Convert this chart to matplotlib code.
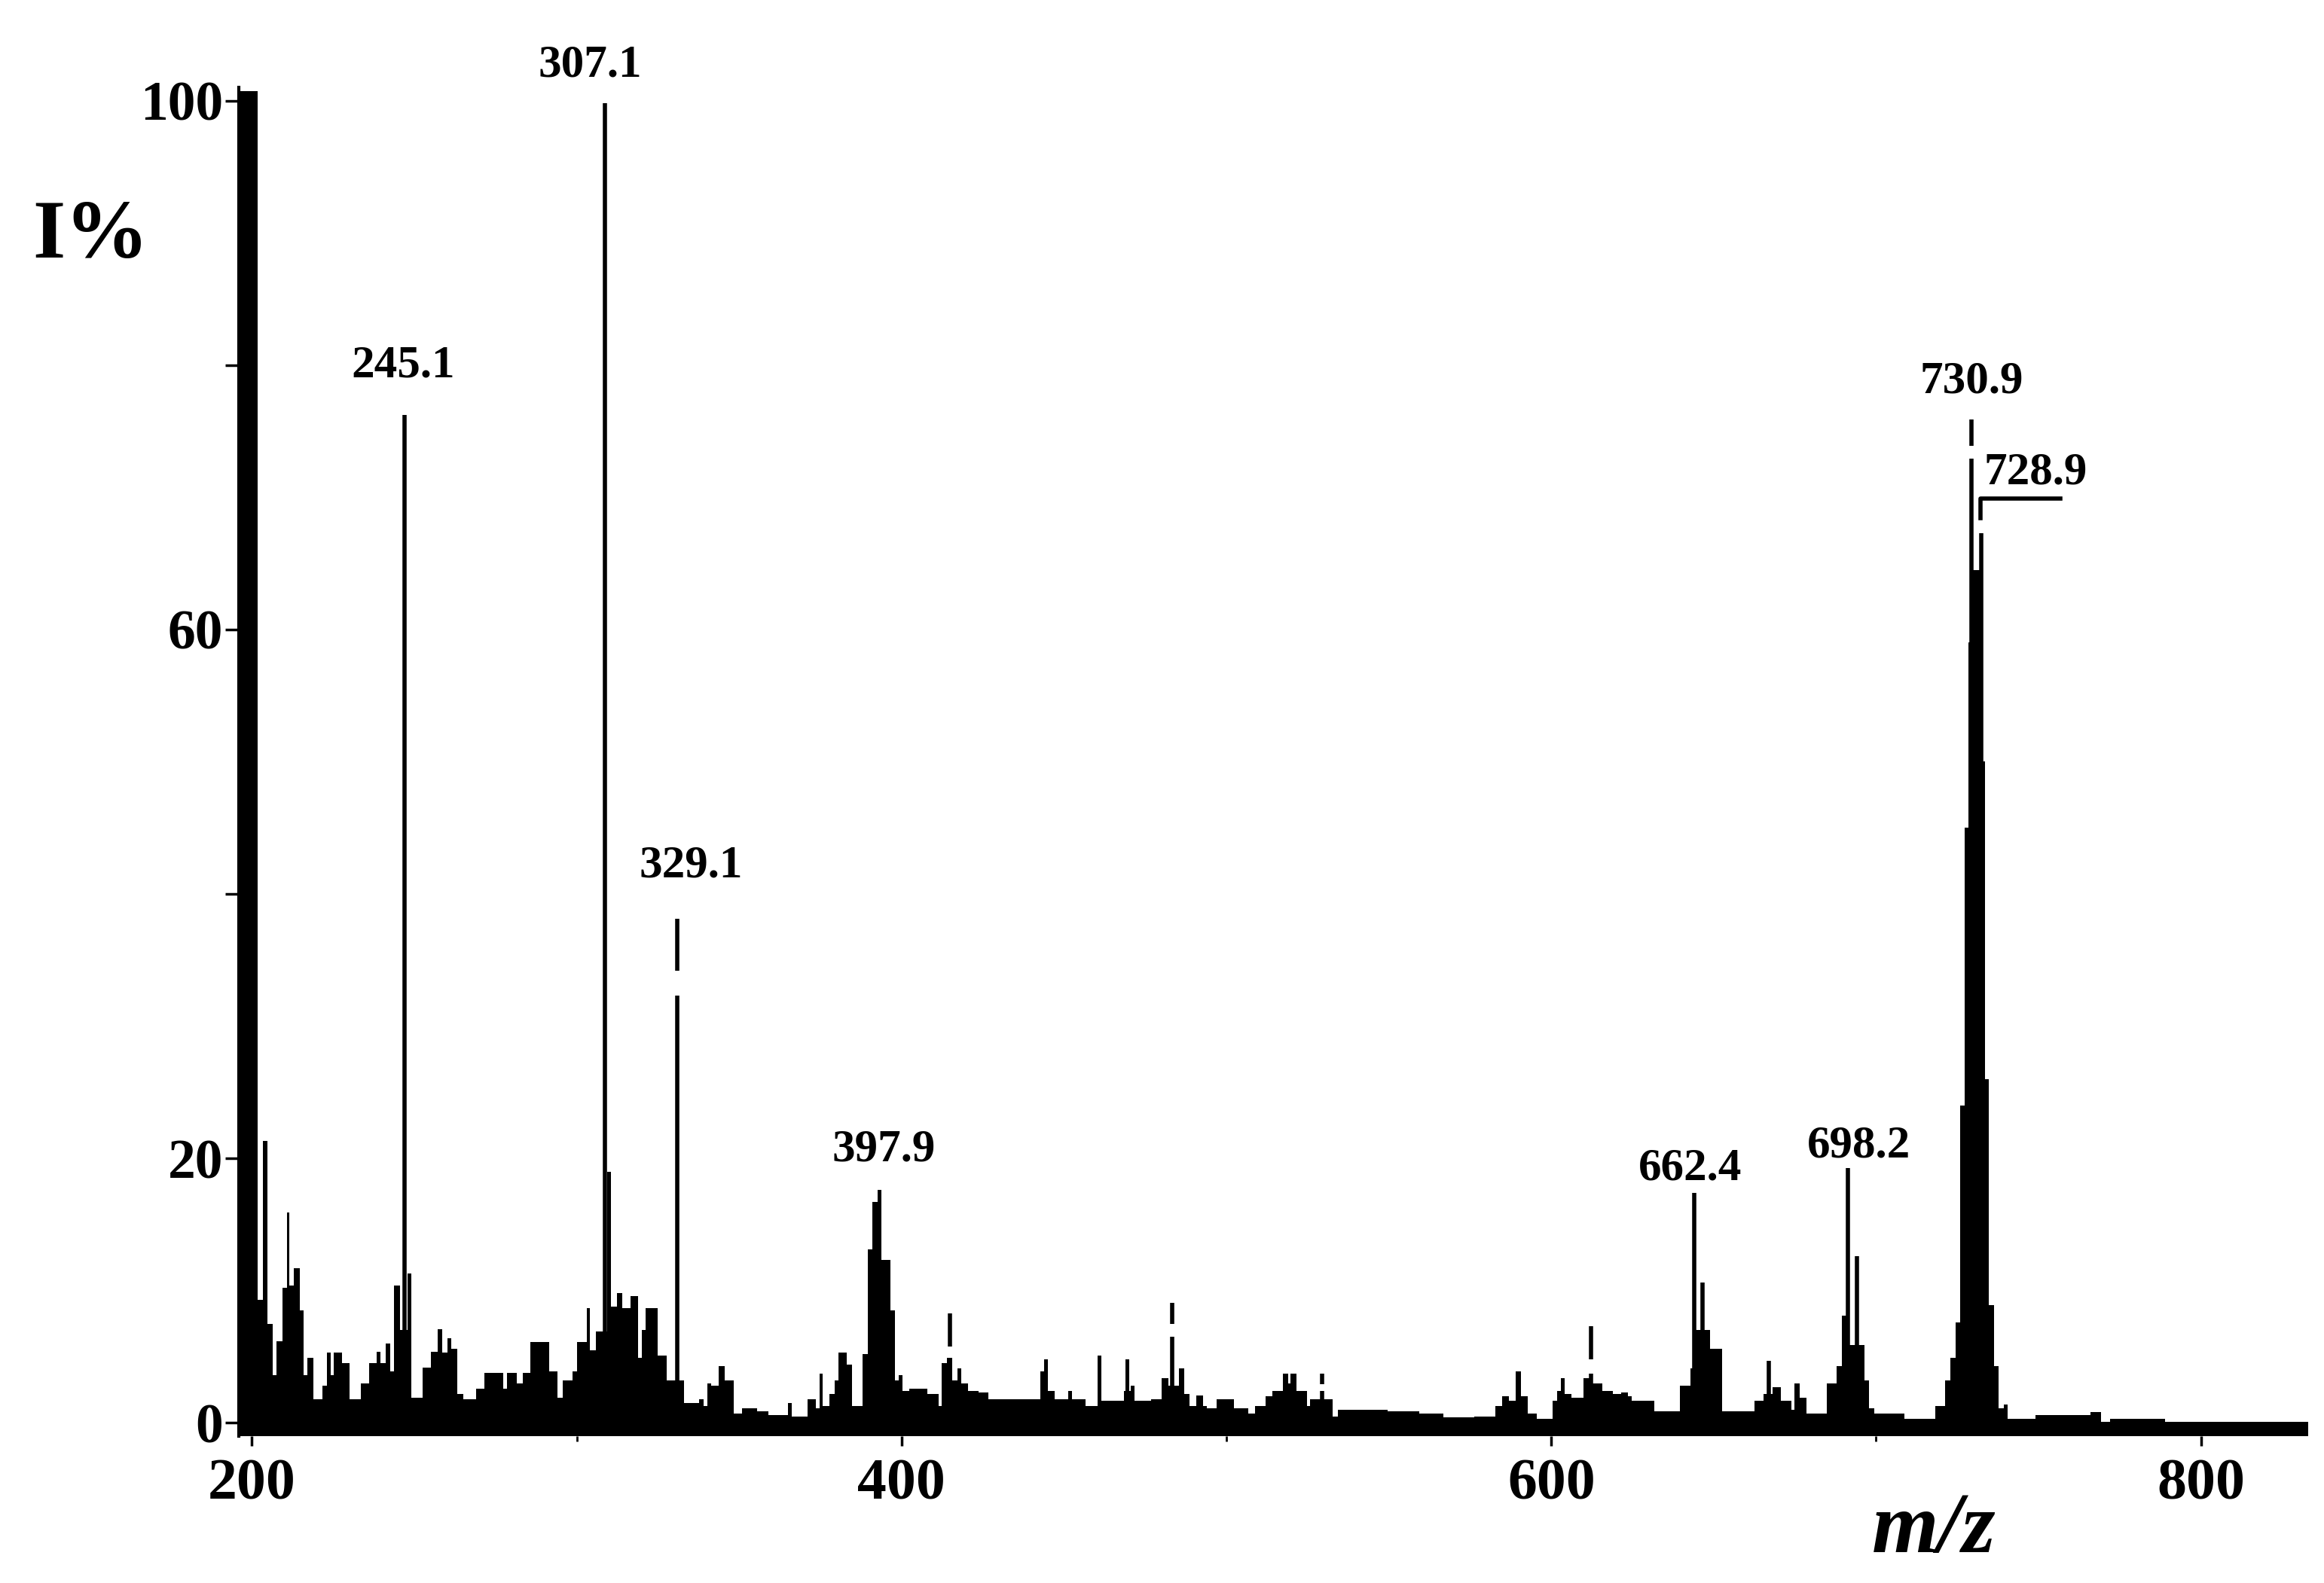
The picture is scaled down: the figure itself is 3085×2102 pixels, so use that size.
import matplotlib
matplotlib.use("Agg")
import matplotlib.pyplot as plt

# continuum / cluster profile: left edge of each step (m/z) and I%
profile_mz = [
    196.0, 201.7, 203.3, 204.8, 206.4, 207.6, 209.4, 210.7, 211.5, 213.0,
    214.7, 215.9, 217.0, 219.0, 221.8, 223.0, 224.2, 225.3, 227.7, 230.0,
    233.6, 236.0, 238.4, 239.6, 241.3, 242.5, 243.7, 245.5, 247.8, 249.0,
    252.6, 255.0, 257.3, 258.5, 260.2, 261.4, 263.2, 265.0, 269.0, 271.5,
    277.4, 278.5, 281.5, 283.5, 285.7, 291.6, 294.0, 295.7, 298.7, 300.0,
    303.0, 304.0, 305.8, 309.3, 310.5, 312.3, 314.1, 316.5, 318.8, 320.0,
    321.1, 325.0, 327.7, 333.0, 337.7, 339.0, 340.2, 341.3, 343.7, 345.5,
    348.4, 350.8, 355.5, 359.0, 365.0, 366.2, 371.0, 373.6, 374.8, 375.8,
    377.8, 379.4, 380.5, 383.2, 384.8, 388.0, 389.5, 391.1, 392.7, 393.8,
    396.5, 398.0, 399.1, 400.2, 402.3, 408.0, 411.4, 412.4, 414.0, 415.6,
    417.2, 418.3, 420.4, 423.6, 426.8, 442.8, 443.8, 445.0, 447.0, 451.3,
    452.5, 456.6, 460.4, 461.4, 468.4, 469.0, 470.0, 470.5, 471.6, 476.9,
    480.0, 482.1, 485.4, 487.0, 488.6, 490.7, 492.9, 494.0, 497.0, 502.4,
    506.6, 508.8, 512.0, 514.2, 517.3, 519.0, 519.6, 521.5, 524.7, 525.7,
    532.7, 534.3, 549.7, 559.3, 566.8, 576.3, 582.7, 584.9, 587.0, 589.1,
    590.7, 592.8, 595.5, 600.3, 601.9, 603.0, 604.0, 606.2, 609.9, 612.0,
    615.7, 618.9, 621.6, 623.7, 624.8, 631.7, 639.7, 642.9, 644.5, 648.8,
    652.5, 662.6, 665.3, 668.0, 670.6, 673.8, 674.9, 676.5, 678.6, 684.8,
    687.9, 689.5, 691.8, 696.3, 697.8, 699.4, 708.8, 718.2, 721.3, 722.9,
    724.5, 725.8, 727.2, 728.3, 729.5, 732.6, 733.6, 734.7, 736.2, 737.7,
    739.4, 740.5, 749.0, 766.0, 769.2, 772.0, 789.0, 833.0,
]
profile_int = [
    100.7, 9.3, 21.3, 7.5, 3.6, 6.2, 10.2, 15.9, 10.4, 11.7,
    8.5, 3.6, 4.9, 1.8, 2.8, 5.3, 3.6, 5.3, 4.5, 1.8,
    3.0, 4.5, 5.4, 4.5, 6.0, 3.9, 10.4, 7.0, 11.3, 1.9,
    4.2, 5.4, 7.1, 5.3, 6.4, 5.6, 2.2, 1.8, 2.6, 3.8,
    2.6, 3.8, 3.0, 3.8, 6.1, 3.9, 1.9, 3.2, 3.9, 6.1,
    8.7, 5.5, 6.9, 19.0, 8.8, 9.8, 8.7, 9.6, 4.9, 7.0,
    8.7, 5.1, 3.2, 1.5, 1.8, 1.3, 3.0, 2.8, 4.3, 3.2,
    0.7, 1.1, 0.9, 0.6, 1.5, 0.5, 1.8, 1.1, 3.7, 1.3,
    2.2, 3.2, 5.3, 4.4, 1.3, 5.2, 13.1, 16.7, 17.6, 12.3,
    8.5, 3.2, 3.6, 2.4, 2.6, 2.2, 1.3, 4.5, 4.9, 3.2,
    4.1, 3.0, 2.4, 2.3, 1.8, 3.9, 4.8, 2.4, 1.8, 2.4,
    1.8, 1.3, 5.1, 1.7, 2.4, 4.8, 2.4, 2.8, 1.7, 1.8,
    3.4, 2.8, 4.1, 2.2, 1.3, 2.1, 1.3, 1.1, 1.8, 1.1,
    0.7, 1.3, 2.0, 2.4, 3.7, 3.0, 3.7, 2.4, 1.3, 1.8,
    0.5, 1.0, 0.9, 0.7, 0.4, 0.5, 1.3, 2.0, 1.7, 3.9,
    2.0, 0.7, 0.3, 1.7, 2.4, 3.4, 2.2, 1.9, 3.4, 3.0,
    2.4, 2.2, 2.3, 2.0, 1.7, 0.9, 2.8, 4.1, 7.0, 5.6,
    0.9, 1.7, 2.2, 2.7, 1.7, 1.0, 3.0, 1.9, 0.7, 3.0,
    4.3, 8.1, 5.9, 3.2, 1.1, 0.7, 0.3, 1.3, 3.2, 4.9,
    7.6, 24.0, 45.0, 59.0, 64.5, 50.0, 26.0, 8.9, 4.3, 1.1,
    1.4, 0.3, 0.6, 0.8, 0.1, 0.3, 0.05, 0.05,
]

# narrow single lines standing above the profile
stick_mz = [247.0, 308.7, 331.0, 414.8, 483.3, 529.5, 612.3, 644.0, 646.6,
            666.9, 691.4, 694.0, 729.4, 732.4]
stick_int = [76.2, 99.8, 32.3, 4.8, 6.5, 2.4, 3.7, 17.4, 10.6,
             4.7, 19.3, 12.6, 72.9, 67.3]

# detached upper pieces of the broken (dashed-looking) lines
broken_mz = [331.0, 414.8, 483.3, 529.5, 612.3, 729.4]
broken_lo = [34.2, 5.8, 7.5, 2.9, 4.8, 73.9]
broken_hi = [38.1, 8.3, 9.1, 3.7, 7.3, 75.9]

# annotated peaks: text, text centre (m/z), text baseline (I%)
label_text = ["245.1", "307.1", "329.1", "397.9", "662.4", "698.2", "730.9", "728.9"]
label_x = [246.6, 304.1, 335.2, 394.6, 642.8, 694.6, 729.4, 749.0]
label_y = [79.1, 101.8, 41.3, 19.8, 18.4, 20.1, 77.9, 71.0]

serif = "Liberation Serif"

fig = plt.figure(figsize=(30.85, 21.02), dpi=100)
ax = fig.add_axes([0.1028, 0.0928, 0.8904, 0.852])
ax.set_xlim(196, 833)
ax.set_ylim(-1.0, 101)

ax.fill_between(profile_mz, -1.0, profile_int, step="post", color="black", lw=0)
ax.vlines(stick_mz, -1.0, stick_int, color="black", lw=4)
ax.vlines(broken_mz, broken_lo, broken_hi, color="black", lw=4)
# bracket marking 728.9
ax.plot([732.2, 732.2, 756.7], [68.4, 69.9, 69.9], color="black", lw=4)

for t, x, y in zip(label_text, label_x, label_y):
    ax.text(x, y, t, ha="center", va="baseline", fontsize=44,
            fontweight="bold", family=serif, clip_on=False)

for s in ["top", "right", "bottom"]:
    ax.spines[s].set_visible(False)
ax.spines["left"].set_linewidth(3)

ax.set_yticks([0, 20, 40, 60, 80, 100])
ax.set_yticklabels(["0", "20", "", "60", "", "100"])
ax.set_xticks([200, 400, 600, 800])
ax.set_xticks([300, 500, 700], minor=True)
ax.tick_params(axis="y", direction="out", length=13, width=2.5, pad=2)
ax.tick_params(axis="x", which="major", direction="out", length=9, width=2.5, pad=12)
ax.tick_params(axis="x", which="minor", direction="out", length=5, width=2)
for lab in ax.get_yticklabels():
    lab.set_fontsize(53)
    lab.set_fontweight("bold")
    lab.set_family(serif)
for lab in ax.get_xticklabels():
    lab.set_fontsize(56)
    lab.set_fontweight("bold")
    lab.set_family(serif)

fig.text(0.039, 0.850, "I%", fontsize=80, fontweight="bold", family=serif,
         ha="center", va="center")
fig.text(0.832, 0.033, "m/z", fontsize=82, fontweight="bold", style="italic",
         family=serif, ha="center", va="center")

fig.savefig("out.png", dpi=100, facecolor="white")
